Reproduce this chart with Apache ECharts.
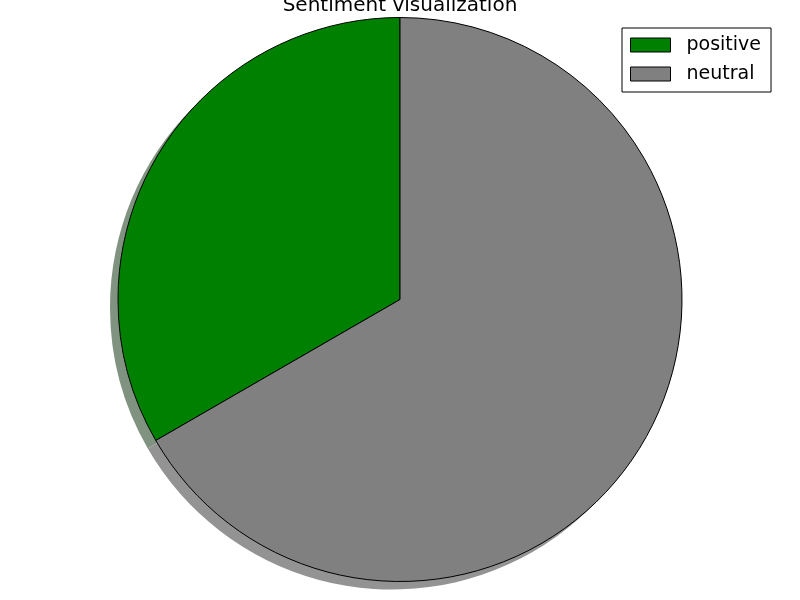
<!DOCTYPE html>
<html>
<head>
<meta charset="utf-8">
<script src="https://cdn.jsdelivr.net/npm/echarts@6/dist/echarts.min.js"></script>
<style>
  html, body { margin: 0; padding: 0; background: #fff; }
  #main { width: 800px; height: 600px; }
</style>
</head>
<body>
<div id="main"></div>
<script>
// data
var labels = ["positive", "neutral"];
var values = [1, 2];
var sliceColors = ["#008000", "#808080"];
var shadowColors = ["#809380", "#939393"];

var chart = echarts.init(document.getElementById("main"));

var pieData = labels.map(function (name, i) {
  return { name: name, value: values[i], itemStyle: { color: sliceColors[i] } };
});
var shadowData = labels.map(function (name, i) {
  return { name: name + "_shadow", value: values[i], itemStyle: { color: shadowColors[i] } };
});

var option = {
  animation: false,
  title: {
    text: "Sentiment visualization",
    left: "center",
    top: -9,
    textStyle: {
      fontFamily: "DejaVu Sans",
      fontSize: 20,
      fontWeight: "normal",
      color: "#000"
    }
  },
  legend: {
    data: labels,
    orient: "vertical",
    left: 622,
    top: 28,
    padding: [7, 10, 8, 8],
    itemGap: 9,
    itemWidth: 40,
    itemHeight: 14,
    icon: "rect",
    backgroundColor: "#fff",
    borderColor: "#000",
    borderWidth: 1,
    borderRadius: 0,
    selectedMode: false,
    itemStyle: { borderColor: "#000", borderWidth: 1 },
    textStyle: {
      fontFamily: "DejaVu Sans",
      fontSize: 19,
      lineHeight: 20,
      color: "#000",
      padding: [0, 0, 0, 11]
    }
  },
  series: [
    {
      // shadow layer
      type: "pie",
      silent: true,
      z: 1,
      center: [392, 307.5],
      radius: 282,
      startAngle: 90,
      clockwise: false,
      label: { show: false },
      labelLine: { show: false },
      emphasis: { disabled: true },
      itemStyle: { borderWidth: 0 },
      data: shadowData
    },
    {
      type: "pie",
      z: 2,
      center: [400, 299.5],
      radius: 282,
      startAngle: 90,
      clockwise: false,
      label: { show: false },
      labelLine: { show: false },
      emphasis: { disabled: true },
      itemStyle: { borderColor: "#000", borderWidth: 1 },
      data: pieData
    }
  ]
};

chart.setOption(option);
</script>
</body>
</html>
